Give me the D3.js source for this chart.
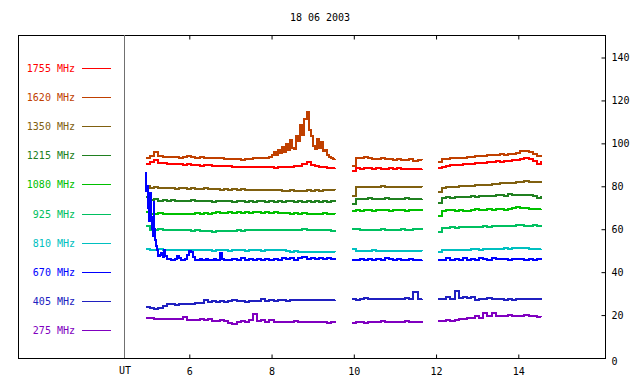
<!DOCTYPE html>
<html lang="en">
<head>
<meta charset="UTF-8">
<title>18 06 2003</title>
<script src="https://cdn.jsdelivr.net/npm/d3@7"></script>
<style>
  body { margin: 0; background: #fff; }
  svg text { font-family: "DejaVu Sans Mono", monospace; font-size: 10px; }
</style>
</head>
<body>
<script>
// legend / series
var freqs  = ["1755 MHz", "1620 MHz", "1350 MHz", "1215 MHz", "1080 MHz", "925 MHz", "810 MHz", "670 MHz", "405 MHz", "275 MHz"];
var colors = ["#ff0000", "#c04000", "#806010", "#208020", "#00c000", "#00c060", "#00c0c0", "#0000ff", "#2020c0", "#8000c0"];

// time grids (UT hours)
var t1 = [4.95,5.05,5.15,5.25,5.35,5.45,5.55,5.65,5.75,5.85,5.95,6.05,6.15,6.25,6.35,6.45,6.55,6.65,6.75,6.85,
          6.95,7.05,7.15,7.25,7.35,7.45,7.55,7.65,7.75,7.85,7.95,8.05,8.15,8.25,8.35,8.45,8.55,8.65,8.75,8.85,
          8.95,9.05,9.15,9.25,9.35,9.45,9.55];
var t2 = [9.95,10.05,10.15,10.25,10.35,10.45,10.55,10.65,10.75,10.85,10.95,11.05,11.15,11.25,11.35,11.45,11.55,11.65];
var t3 = [12.05,12.15,12.25,12.35,12.45,12.55,12.65,12.75,12.85,12.95,13.05,13.15,13.25,13.35,13.45,13.55,13.65,13.75,13.85,13.95,
          14.05,14.15,14.25,14.35,14.45,14.55];
// finer grids where the curves move fast
var t1620 = [4.95,5.05,5.15,5.25,5.35,5.45,5.55,5.65,5.75,5.85,5.95,6.05,6.15,6.25,6.35,6.45,6.55,6.65,6.75,6.85,
             6.95,7.05,7.15,7.25,7.35,7.45,7.55,7.65,7.75,7.85,7.95,
             8.00,8.05,8.10,8.15,8.20,8.25,8.30,8.35,8.40,8.45,8.50,8.55,8.60,8.65,8.70,8.75,8.80,8.85,8.90,8.95,
             9.00,9.05,9.10,9.15,9.20,9.25,9.30,9.35,9.40,9.45,9.50,9.55];
var t670 = [4.93,4.95,4.97,4.99,5.01,5.03,5.05,5.07,5.09,5.11,5.13,5.15,5.17,5.19,5.22,5.25,5.28,5.31,5.35,5.38,
            5.42,5.46,5.50,5.55,
            5.60,5.65,5.70,5.75,5.80,5.85,5.90,5.95,6.00,6.05,6.10,6.15,6.20,6.25,6.30,6.35,6.40,6.45,6.50,6.55,
            6.60,6.65,6.70,6.75,6.80,6.85,6.90,6.95,7.00,7.05,
            7.15,7.25,7.35,7.45,7.55,7.65,7.75,7.85,7.95,8.05,8.15,8.25,8.35,8.45,8.55,8.65,8.75,8.85,8.95,9.05,
            9.15,9.25,9.35,9.45,9.55];

// values, one array per segment
var v1755 = [
  [90.6,91.2,92.2,91.0,90.8,90.5,90.3,90.6,90.2,90.0, 90.4,90.1,89.9,89.6,90.0,89.7,89.5,89.6,89.3,89.5,
   89.4,89.0,89.2,88.9,89.1,88.8,89.0,88.9,89.1,88.8, 89.0,88.7,89.0,88.9,89.2,89.0,89.3,89.6,90.3,91.2,
   90.0,89.4,89.0,88.8,88.7,88.4,88.6],
  [86.9,88.4,88.2,88.5,88.3,88.1,88.4,88.2,88.0,88.3,88.1,88.4,88.0,88.2,87.9,88.1,88.0,88.2],
  [88.6,89.2,89.4,89.7,89.9,90.0,90.3,90.4,90.6,90.8,90.7,91.0,91.2,91.3,91.6,91.5,91.8,92.0,92.2,92.4,
   92.7,93.0,92.6,92.0,90.5,91.8]
];
var v1620 = [
  [93.4,94.2,96.0,94.0,93.8,93.6,93.5,93.8,93.4,93.6, 93.9,93.5,93.3,93.6,93.2,93.4,93.1,93.3,93.0,92.8,
   92.6,92.5,92.7,92.4,92.8,92.6,93.0,93.2,93.4,93.3, 93.8,
   94.5,95.8,94.6,97.0,95.5,98.5,96.2,99.5,97.0,101.5, 98.0,97.2,103.5,101.0,108.5,104.0,111.5,114.5,106.0,103.5,
   99.0,97.5,102.2,98.0,100.5,96.5,96.8,94.5,93.8,93.0, 92.6,92.9],
  [89.5,93.0,93.2,93.6,93.0,92.8,92.6,93.1,92.5,92.7,92.4,92.8,92.3,92.1,92.5,91.9,92.3,92.2],
  [91.5,92.7,92.9,93.0,93.2,93.1,93.4,93.6,93.5,93.9,94.0,94.3,94.6,94.5,94.8,94.9,94.7,95.0,95.2,95.6,
   96.4,96.6,95.8,95.2,94.0,94.8]
];
var v1350 = [
  [80.2,79.3,79.5,79.2,79.0,79.3,79.1,78.9,79.2,79.0, 78.8,79.1,78.9,78.7,79.0,78.8,78.6,78.9,78.5,78.7,
   78.4,78.6,78.3,78.6,78.4,78.2,78.5,78.3,78.1,78.4, 78.2,78.5,78.3,78.0,77.9,78.2,77.8,78.0,77.7,78.1,
   77.9,78.2,78.0,78.3,78.1,78.5,78.2],
  [75.5,79.6,79.8,79.7,79.9,79.6,79.8,80.0,79.7,79.9,79.6,79.8,79.7,79.5,79.8,79.6,79.7,79.5],
  [77.5,79.4,79.6,79.8,79.7,80.0,80.1,80.3,80.2,80.5,80.6,80.8,80.7,81.0,81.2,81.3,81.4,81.5,81.7,82.0,
   82.2,82.4,82.1,81.8,82.2,81.7]
];
var v1215 = [
  [75.0,73.6,73.9,73.3,73.5,73.2,73.4,73.1,73.3,73.0, 73.2,73.4,73.1,73.3,73.0,73.2,72.9,73.2,73.0,73.3,
   73.1,72.9,73.2,73.0,72.8,73.1,72.9,73.2,73.0,72.8, 73.1,72.9,73.2,72.8,73.0,73.3,72.9,73.1,72.8,73.0,
   72.7,73.0,72.8,73.1,72.7,73.0,72.6],
  [71.6,74.0,74.3,74.1,74.4,74.2,74.0,74.3,74.5,74.1,74.3,74.0,74.2,74.4,74.1,74.3,74.0,74.2],
  [72.0,74.6,74.8,74.7,75.0,74.9,75.1,75.0,75.3,75.2,75.4,75.3,75.6,75.5,75.8,76.0,75.7,76.2,76.0,75.9,
   76.1,75.8,76.0,75.6,74.6,75.5]
];
var v1080 = [
  [68.0,67.3,67.1,67.4,67.2,67.0,67.3,66.9,67.2,67.0, 67.3,67.1,67.4,67.2,67.5,67.3,67.6,67.8,67.5,67.7,
   67.9,67.6,67.8,67.5,67.9,67.7,68.0,67.8,67.6,67.9, 67.7,68.0,67.6,67.4,67.7,67.3,67.5,67.2,67.4,67.1,
   67.3,67.0,67.2,67.4,67.1,67.3,67.2],
  [68.6,68.9,68.7,69.0,68.8,68.6,68.9,69.1,68.8,68.7,69.0,68.8,68.9,68.7,69.0,68.8,68.9,68.7],
  [66.0,68.7,69.0,68.8,68.6,68.9,68.5,68.7,69.0,69.2,68.8,69.1,69.3,69.0,69.2,69.4,69.1,69.3,70.0,70.2,
   70.0,69.8,69.6,69.5,69.3,69.4]
];
var v925 = [
  [61.4,59.8,59.6,59.9,59.7,59.6,59.8,59.6,59.7,59.5, 59.6,59.4,59.5,59.1,59.0,59.2,58.9,59.1,59.0,59.2,
   59.4,59.3,59.5,59.4,59.6,59.5,59.7,59.5,59.6,59.8, 59.6,59.8,59.6,59.7,59.5,59.8,59.6,59.7,59.9,59.6,
   59.8,59.5,59.7,59.5,59.6,59.4,59.5],
  [60.0,59.9,59.7,59.8,59.6,59.8,59.7,59.9,59.8,59.6,59.8,59.7,59.9,59.8,59.7,59.9,60.0,59.8],
  [58.8,60.6,60.7,60.8,60.7,60.9,61.0,60.9,61.1,61.2,61.1,61.3,61.2,61.4,61.3,61.5,61.4,61.6,61.7,62.1,
   61.8,61.7,61.6,61.8,61.7,61.8]
];
var v810 = [
  [51.0,50.5,50.4,50.6,50.3,50.5,50.4,50.2,50.4,50.3, 50.5,50.2,50.4,50.1,50.3,50.2,50.0,50.2,50.1,50.3,
   50.0,50.2,50.1,50.3,50.0,50.2,50.1,50.3,50.0,50.2, 50.4,50.2,50.3,50.1,49.8,49.6,49.7,49.5,49.6,49.4,
   49.5,49.3,49.4,49.2,49.4,49.3,49.2],
  [51.0,49.8,49.9,50.0,49.8,50.1,49.9,49.7,49.9,50.0,49.8,49.7,49.9,50.0,49.8,49.9,50.0,49.8],
  [49.6,50.1,50.3,50.2,50.4,50.3,50.5,50.4,50.6,50.7,50.5,50.8,50.7,50.9,51.0,50.8,51.1,51.0,51.2,51.1,
   51.4,51.3,51.0,50.9,50.7,50.8]
];
var v670 = [
  [86.0,78.0,80.0,70.0,72.5,64.0,77.0,65.5,60.0,56.8, 72.5,60.0,55.0,52.0,50.5,47.4,48.0,49.0,47.0,50.5,
   47.5,45.9,46.2,45.6,
   45.8,46.3,47.4,46.5,45.7,45.6,46.0,48.0,49.8,49.3, 47.0,45.8,45.6,45.9,45.5,45.8,46.2,45.6,45.7,45.5,
   45.9,45.6,45.8,48.8,46.0,45.7,45.5,45.8,45.6,46.1,
   45.7,46.5,45.8,46.2,45.6,45.9,45.7,46.3,45.8,46.0, 45.7,46.4,45.9,46.6,45.8,46.5,46.9,46.2,46.8,46.0,
   46.7,45.9,46.6,46.1,46.4],
  [45.5,45.7,45.9,45.6,46.3,45.8,46.0,45.7,46.5,45.9,45.7,46.2,45.8,45.6,46.0,45.7,45.6,45.8],
  [45.6,45.8,46.6,45.7,46.2,45.5,46.5,45.8,46.3,45.7,46.6,46.0,45.8,46.4,45.9,46.3,46.0,45.8,46.2,45.9,
   46.1,45.7,46.0,45.8,45.9,45.7]
];
var v405 = [
  [23.9,23.5,23.0,23.3,24.2,25.0,25.2,24.9,25.1,25.0, 25.2,25.0,25.5,25.8,27.2,26.0,26.4,26.3,26.6,26.2,
   26.5,26.8,26.4,26.6,26.0,26.5,26.7,26.4,27.6,26.6, 26.8,26.5,26.9,26.8,26.7,26.8,26.9,26.8,26.9,27.0,
   26.8,26.9,27.1,26.9,27.2,27.1,27.2],
  [27.6,27.2,27.4,27.8,27.5,27.6,27.4,27.5,27.7,27.6,27.5,27.6,27.5,27.8,27.6,30.8,27.3,27.6],
  [27.6,27.5,28.3,27.6,31.4,28.0,28.4,27.8,28.3,27.2,27.7,27.6,27.8,27.5,27.6,27.4,26.9,27.6,27.2,27.7,
   27.5,27.4,27.6,27.3,27.4,27.2]
];
var v275 = [
  [18.6,18.5,18.2,18.1,18.3,18.4,18.2,18.0,18.1,18.9, 17.9,17.8,17.6,18.0,17.6,18.4,17.4,17.2,17.5,17.1,
   16.5,15.9,16.8,17.3,17.0,17.6,20.4,17.2,17.5,17.0, 17.6,16.9,17.0,16.8,17.0,16.9,17.1,16.8,16.9,17.0,
   16.8,16.6,17.0,16.7,16.5,16.8,16.5],
  [16.2,16.6,16.9,16.5,16.7,17.0,16.8,17.3,17.0,16.9,16.7,17.0,16.9,17.1,17.0,16.9,17.0,17.1],
  [17.2,17.4,17.8,17.3,17.5,18.3,18.0,18.7,18.5,19.6,18.8,20.9,19.7,20.8,19.5,19.8,19.6,19.9,19.5,19.7,
   19.6,19.9,19.5,19.4,19.2,19.0]
];

var hourTicks = [6, 8, 10, 12, 14];
var fluxTicks = [0, 20, 40, 60, 80, 100, 120, 140];

var series = [
  {values: v1755, times: [t1, t2, t3]},
  {values: v1620, times: [t1620, t2, t3]},
  {values: v1350, times: [t1, t2, t3]},
  {values: v1215, times: [t1, t2, t3]},
  {values: v1080, times: [t1, t2, t3]},
  {values: v925,  times: [t1, t2, t3]},
  {values: v810,  times: [t1, t2, t3]},
  {values: v670,  times: [t670, t2, t3]},
  {values: v405,  times: [t1, t2, t3]},
  {values: v275,  times: [t1, t2, t3]}
];

var W = 640, H = 384;
var boxL = 18, boxT = 35, boxR = 605, boxB = 358, utX = 124;

var svg = d3.select("body").append("svg")
    .attr("width", W)
    .attr("height", H);

var x = d3.scaleLinear().domain([6, 14]).range([189.3, 518.3]);
var y = d3.scaleLinear().domain([0, 140]).range([boxB, 57.5]);

svg.append("text")
    .attr("x", 320).attr("y", 21)
    .attr("text-anchor", "middle")
    .text("18 06 2003");

// curves
var line = d3.line()
    .x(function(d){ return x(d[0]); })
    .y(function(d){ return y(d[1]); })
    .curve(d3.curveStepAfter);

series.forEach(function(s, i) {
  s.values.forEach(function(seg, j) {
    svg.append("path")
        .datum(d3.zip(s.times[j], seg))
        .attr("d", line)
        .attr("fill", "none")
        .attr("stroke", colors[i])
        .attr("stroke-width", 2)
        .attr("shape-rendering", "crispEdges");
  });
});

// frame
svg.append("rect")
    .attr("x", boxL + 0.5).attr("y", boxT + 0.5)
    .attr("width", boxR - boxL).attr("height", boxB - boxT)
    .attr("fill", "none").attr("stroke", "#000");

svg.append("line")
    .attr("x1", utX + 0.5).attr("x2", utX + 0.5)
    .attr("y1", boxT).attr("y2", boxB)
    .attr("stroke", "#707070");

// axes
var xAxis = svg.append("g")
    .attr("transform", "translate(0," + (boxB + 0.5) + ")")
    .call(d3.axisBottom(x).tickValues(hourTicks).tickSizeInner(-4).tickSizeOuter(0).tickPadding(9));

var xTop = svg.append("g")
    .attr("transform", "translate(0," + (boxT + 0.5) + ")")
    .call(d3.axisTop(x).tickValues(hourTicks).tickSizeInner(-4).tickSizeOuter(0).tickFormat(""));

var yAxis = svg.append("g")
    .attr("transform", "translate(" + (boxR + 0.5) + ",0)")
    .call(d3.axisRight(y).tickValues(fluxTicks).tickSizeInner(-4).tickSizeOuter(0).tickPadding(6));

[xAxis, xTop, yAxis].forEach(function(g) {
  g.select(".domain").remove();
  g.selectAll("text").attr("font-family", null).attr("font-size", null).attr("fill", "#000");
});
yAxis.selectAll(".tick").filter(function(d){ return d === 0; }).select("text").attr("dy", "0.65em");

svg.append("text")
    .attr("x", utX + 1).attr("y", 374)
    .attr("text-anchor", "middle")
    .text("UT");

// legend
var legend = svg.selectAll(".legend")
    .data(freqs)
    .enter().append("g")
    .attr("transform", function(d, i){ return "translate(0," + Math.round(68 + i * 29.1) + ")"; });

legend.append("text")
    .attr("x", 75).attr("dy", "0.35em")
    .attr("text-anchor", "end")
    .attr("fill", function(d, i){ return colors[i]; })
    .text(function(d){ return d; });

legend.append("line")
    .attr("x1", 82).attr("x2", 111)
    .attr("y1", 0.5).attr("y2", 0.5)
    .attr("stroke", function(d, i){ return colors[i]; });
</script>
</body>
</html>
